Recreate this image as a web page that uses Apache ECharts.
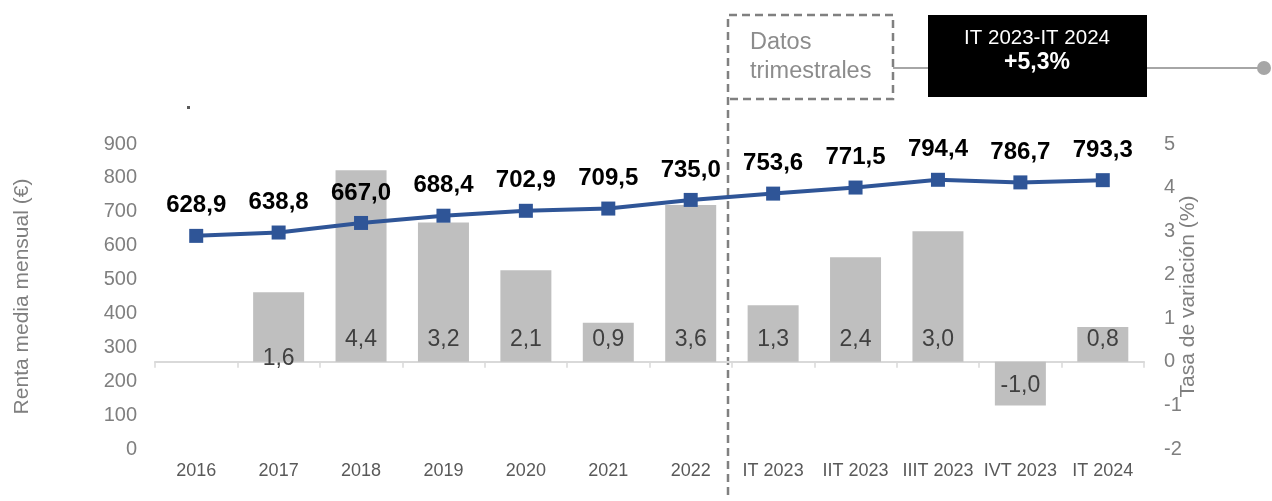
<!DOCTYPE html>
<html>
<head>
<meta charset="utf-8">
<script src="https://cdn.jsdelivr.net/npm/echarts@6/dist/echarts.min.js"></script>
<style>
  html, body { margin: 0; padding: 0; background: #fff; }
  #main { width: 1272px; height: 501px; }
</style>
</head>
<body>
<div id="main"></div>
<script>
const categories = ['2016', '2017', '2018', '2019', '2020', '2021', '2022',
    'IT 2023', 'IIT 2023', 'IIIT 2023', 'IVT 2023', 'IT 2024'];
const renta = [628.9, 638.8, 667.0, 688.4, 702.9, 709.5, 735.0, 753.6, 771.5, 794.4, 786.7, 793.3];
const tasa = [null, 1.6, 4.4, 3.2, 2.1, 0.9, 3.6, 1.3, 2.4, 3.0, -1.0, 0.8];
const leftTicks = { min: 0, max: 900, interval: 100 };
const rightTicks = { min: -2, max: 5, interval: 1 };

const fmt = v => v.toFixed(1).replace('.', ',');

const barData = tasa.map((v, i) => {
    if (v === null) return null;
    const item = { value: v };
    if (v < 0) {
        item.label = { position: 'insideBottom', distance: 8 };
    } else if (categories[i] === '2017') {
        item.label = { offset: [0, 19] };
    }
    return item;
});

const chart = echarts.init(document.getElementById('main'), null, { renderer: 'canvas' });

const grey = '#7F7F7F';
chart.setOption({
    animation: false,
    textStyle: { fontFamily: 'Liberation Sans, Arial, sans-serif' },
    grid: { left: 155, right: 128, top: 144, bottom: 52, containLabel: false, outerBoundsMode: 'none' },
    xAxis: [
        {
            // category labels along the bottom of the grid
            type: 'category',
            data: categories,
            position: 'bottom',
            axisLine: { show: false, onZero: false },
            axisTick: { show: false },
            axisLabel: { interval: 0, margin: 13, color: '#595959', fontSize: 18 }
        },
        {
            // axis line at zero of the right axis, ticks pointing down
            type: 'category',
            data: categories,
            position: 'top',
            axisLine: { onZero: true, onZeroAxisIndex: 1, lineStyle: { color: '#D9D9D9', width: 2 } },
            axisTick: { show: true, inside: true, length: 6, lineStyle: { color: '#D9D9D9', width: 1.5 } },
            axisLabel: { show: false }
        }
    ],
    yAxis: [
        {
            type: 'value',
            min: leftTicks.min, max: leftTicks.max, interval: leftTicks.interval,
            name: 'Renta media mensual (€)',
            nameLocation: 'middle',
            nameGap: 122,
            nameTextStyle: { color: grey, fontSize: 21 },
            axisLine: { show: false },
            axisTick: { show: false },
            splitLine: { show: false },
            axisLabel: { color: grey, fontSize: 20, margin: 18 }
        },
        {
            type: 'value',
            position: 'right',
            min: rightTicks.min, max: rightTicks.max, interval: rightTicks.interval,
            name: 'Tasa de variación (%)',
            nameLocation: 'middle',
            nameRotate: 90,
            nameGap: 34,
            nameMoveOverlap: false,
            nameTextStyle: { color: grey, fontSize: 21 },
            axisLine: { show: false },
            axisTick: { show: false },
            splitLine: { show: false },
            axisLabel: { color: grey, fontSize: 20, margin: 20 }
        }
    ],
    series: [
        {
            type: 'bar',
            xAxisIndex: 0,
            yAxisIndex: 1,
            data: barData,
            barWidth: 51,
            itemStyle: { color: '#BFBFBF' },
            label: {
                show: true,
                position: 'insideBottom',
                distance: 11,
                color: '#404040',
                fontSize: 23,
                formatter: p => fmt(p.value)
            },
            z: 2
        },
        {
            type: 'line',
            xAxisIndex: 0,
            yAxisIndex: 0,
            data: renta,
            symbol: 'rect',
            symbolSize: 14,
            lineStyle: { color: '#2F5597', width: 4 },
            itemStyle: { color: '#2F5597' },
            label: {
                show: true,
                position: 'top',
                distance: 11,
                color: '#000',
                fontWeight: 'bold',
                fontSize: 24,
                formatter: p => fmt(p.value)
            },
            z: 5
        }
    ],
    graphic: [
        {
            type: 'polyline',
            shape: { points: [[728, 495], [728, 15], [893, 15], [893, 99], [728, 99]] },
            style: { stroke: '#808080', lineWidth: 2.5, lineDash: [8, 5], fill: null }
        },
        {
            type: 'text',
            left: 750, top: 28,
            style: { text: 'Datos\ntrimestrales', fill: '#8C8C8C', fontSize: 23.5, lineHeight: 29,
                fontFamily: 'Liberation Sans, Arial, sans-serif' }
        },
        {
            type: 'line',
            shape: { x1: 893, y1: 68, x2: 928, y2: 68 },
            style: { stroke: '#A6A6A6', lineWidth: 2 }
        },
        {
            type: 'line',
            shape: { x1: 1147, y1: 68, x2: 1262, y2: 68 },
            style: { stroke: '#A6A6A6', lineWidth: 2 }
        },
        {
            type: 'circle',
            shape: { cx: 1264, cy: 68, r: 7 },
            style: { fill: '#A6A6A6' }
        },
        {
            type: 'rect',
            shape: { x: 928, y: 15, width: 219, height: 82 },
            style: { fill: '#000' }
        },
        {
            type: 'text',
            x: 1037, y: 38,
            style: { text: 'IT 2023-IT 2024', fill: '#fff', fontSize: 20.5, align: 'center', verticalAlign: 'middle',
                fontFamily: 'Liberation Sans, Arial, sans-serif' }
        },
        {
            type: 'text',
            x: 1037, y: 63,
            style: { text: '+5,3%', fill: '#fff', fontSize: 23, fontWeight: 'bold', align: 'center', verticalAlign: 'middle',
                fontFamily: 'Liberation Sans, Arial, sans-serif' }
        },
        {
            type: 'rect',
            shape: { x: 187, y: 106, width: 3, height: 3 },
            style: { fill: '#595959' }
        }
    ]
});
</script>
</body>
</html>
